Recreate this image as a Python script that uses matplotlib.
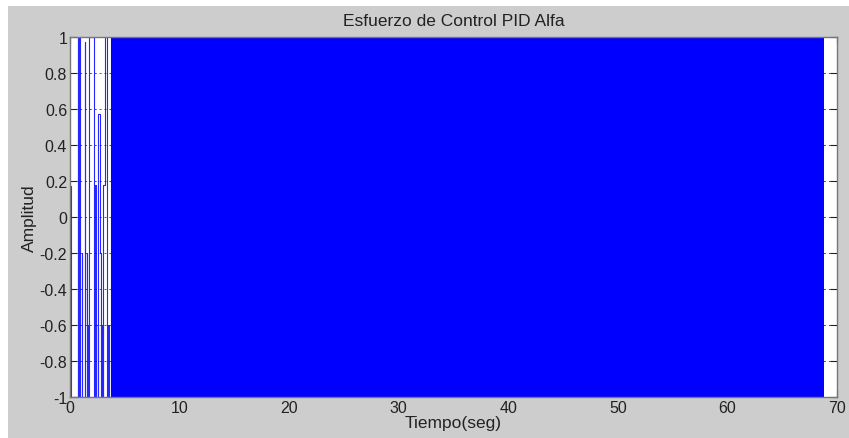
import matplotlib
matplotlib.use("Agg")
import matplotlib.pyplot as plt
from matplotlib.patches import Rectangle

plt.rcParams['font.family'] = ['Liberation Sans', 'DejaVu Sans']

title = "Esfuerzo de Control PID Alfa"
xlabel = "Tiempo(seg)"
ylabel = "Amplitud"

# early, resolvable part of the control signal (sample-and-hold)
t_early = [0.0, 0.12, 0.70, 0.74, 0.85, 0.88, 1.10, 1.14, 1.38, 1.41, 1.52, 1.56, 1.60,
           1.70, 2.20, 2.24, 2.35, 2.40, 2.55, 2.58, 2.75, 2.80, 2.95, 3.00, 3.05, 3.20,
           3.40, 3.45, 3.55, 3.75]
u_early = [0.17, -1, 1, -1, 1, -1, -0.2, -1, 0.97, -1, -0.2, -0.6, -1,
           1, -1, 0.18, -1, -0.6, -1, 0.57, -0.2, -1, -0.6, -1, 0.18, 1,
           -1, -0.6, -1, 1]

# chattering band (saturated +-1 switching every sample)
chatter_t = [3.75, 68.8]
chatter_lo = [-1, -1]
chatter_hi = [1, 1]

xticks = [0, 10, 20, 30, 40, 50, 60, 70]
yticks = [-1, -0.8, -0.6, -0.4, -0.2, 0, 0.2, 0.4, 0.6, 0.8, 1]
yticklabels = ["-1", "-0.8", "-0.6", "-0.4", "-0.2", "0", "0.2", "0.4", "0.6", "0.8", "1"]

W, H = 849, 439
fig = plt.figure(figsize=(W / 100, H / 100), dpi=100, facecolor="white")
fig.patches.append(Rectangle((8 / W, 0), 1, (H - 7) / H, transform=fig.transFigure,
                             facecolor="#cdcdcd", edgecolor="none", zorder=-10))

ax = fig.add_axes([70 / W, 1 - 398 / H, (837 - 70) / W, (398 - 38) / H])
ax.set_facecolor("white")
ax.set_axisbelow(True)

ax.plot(t_early, u_early, color="#0000ff", lw=0.8, alpha=0.85, drawstyle="steps-post")
ax.plot([t_early[-1], chatter_t[0]], [u_early[-1], u_early[-1]], color="#0000ff", lw=0.8)
ax.fill_between(chatter_t, chatter_lo, chatter_hi, color="#0000ff", lw=0)

ax.set_xlim(0, 70)
ax.set_ylim(-1, 1)
ax.set_xticks(xticks)
ax.set_yticks(yticks)
ax.set_yticklabels(yticklabels)
ax.tick_params(direction="in", length=5, width=0.8, labelsize=11.5, pad=2,
               top=True, right=True, colors="#222222")
ax.grid(True, linestyle=(0, (2, 3)), color="#555555", lw=0.7)
for s in ax.spines.values():
    s.set_color("#777777")
    s.set_linewidth(1.0)

ax.set_title(title, fontsize=12.5, pad=9, color="#222222")
ax.set_xlabel(xlabel, fontsize=12.5, labelpad=0, color="#222222")
ax.set_ylabel(ylabel, fontsize=12.5, labelpad=2, color="#222222")

fig.savefig("out.png", dpi=100, facecolor=fig.get_facecolor())
